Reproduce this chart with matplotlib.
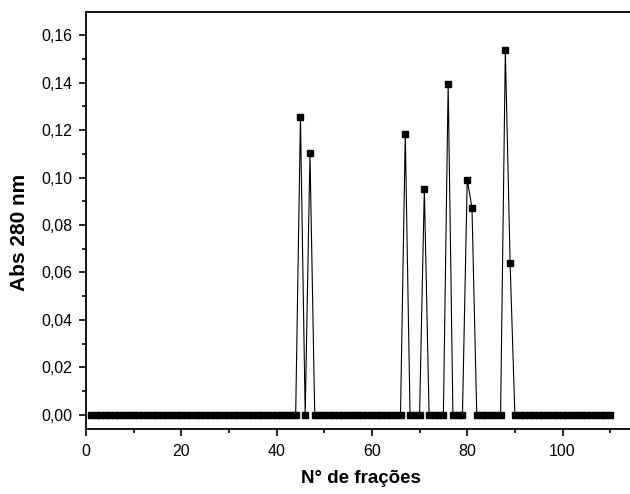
import numpy as np
import matplotlib.pyplot as plt
from matplotlib.ticker import MultipleLocator, FuncFormatter

plt.rcParams['font.family'] = ['Liberation Sans', 'DejaVu Sans']

# Fracoes 1..110, absorvancia 0 behalve de pieken
fracoes = list(range(1, 111))
piek_fracoes = [45, 47, 67, 71, 76, 80, 81, 88, 89]
piek_waarden = [0.1253, 0.1102, 0.1183, 0.0952, 0.1394, 0.0991, 0.0871, 0.1535, 0.0642]

abs280 = [0.0] * len(fracoes)
for f, v in zip(piek_fracoes, piek_waarden):
    abs280[fracoes.index(f)] = v

fig = plt.figure(figsize=(6.3, 4.94), dpi=100)
ax = fig.add_axes([86 / 630, 65 / 494, 548 / 630, 417.5 / 494])

ax.plot(fracoes, abs280, 'k-', linewidth=0.8)
ax.plot(fracoes, abs280, 'ks', markersize=4.5)

ax.set_xlim(0, 115)
ax.set_ylim(-0.0059, 0.1699)

ax.xaxis.set_major_locator(MultipleLocator(20))
ax.xaxis.set_minor_locator(MultipleLocator(10))
ax.yaxis.set_major_locator(MultipleLocator(0.02))
ax.yaxis.set_minor_locator(MultipleLocator(0.01))
ax.yaxis.set_major_formatter(FuncFormatter(lambda v, p: ('%.2f' % v).replace('.', ',')))

ax.tick_params(which='major', direction='out', length=5, width=1.2, labelsize=11.5)
ax.tick_params(which='minor', direction='out', length=3, width=1.2)
ax.tick_params(axis='x', which='major', pad=6)
ax.tick_params(axis='y', which='major', pad=5)
for s in ax.spines.values():
    s.set_linewidth(1.3)

ax.set_xlabel('N° de frações', fontsize=13.5, fontweight='bold')
ax.set_ylabel('Abs 280 nm', fontsize=15, fontweight='bold')
ax.xaxis.set_label_coords((361 - 86) / 548, (429 - 470) / 417.5)
ax.yaxis.set_label_coords((29 - 86) / 548, (494 - 65 - 232) / 417.5)

fig.savefig('out.png', dpi=100)
